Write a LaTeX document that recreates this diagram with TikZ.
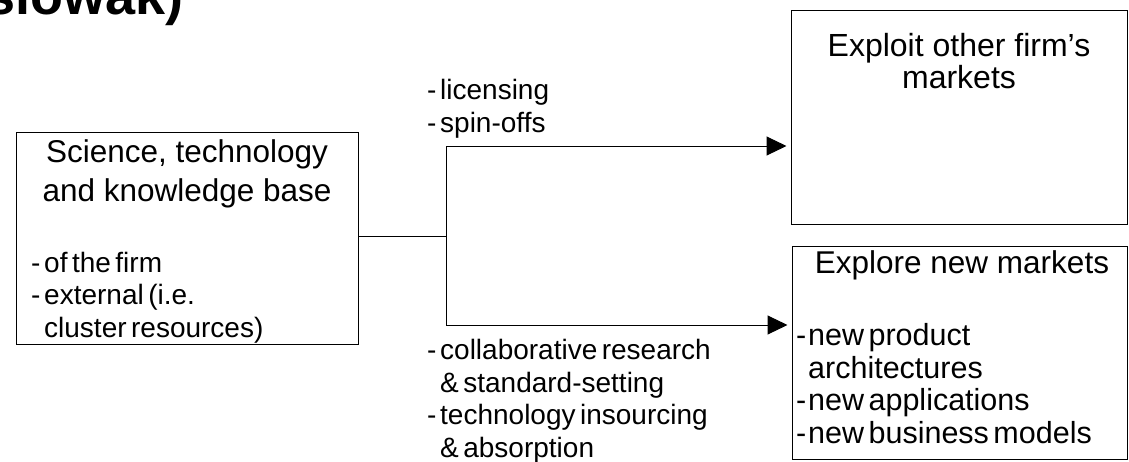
\documentclass[tikz,border=0pt]{standalone}
\usepackage{fontspec}
\setmainfont{Liberation Sans}
\usetikzlibrary{arrows.meta,positioning}
\newlength{\hangw}
\newcommand{\listfont}[2]{\fontsize{#1}{32.5}\selectfont\spaceskip=4.5pt plus 1pt minus 1pt\setlength{\hangw}{#2}}
\newcommand{\itemdash}{\makebox[\hangw][l]{-}}
\newcommand{\itemgap}{\hspace*{\hangw}}
\tikzset{
  mbox/.style={draw, line width=1pt, inner sep=0pt},
  boxtitle/.style={font=\fontsize{31.5}{39}\selectfont, align=center, inner sep=0pt, anchor=base},
  listtext/.style n args={2}{font={\listfont{#1}{#2}}, align=left, inner sep=0pt, anchor=base west},
  link/.style={line width=1pt},
  flow/.style={line width=1pt, -{Triangle[length=20pt,width=19pt]}}
}
\begin{document}
\begin{tikzpicture}[x=1pt,y=-1pt]
\useasboundingbox (0,0) rectangle (1129,461);
\node[anchor=base east, inner sep=0pt, font=\fontsize{54}{54}\selectfont\bfseries] (heading) at (184,14) {slowak)};

\node[mbox, minimum width=342pt, minimum height=212pt] (base) at (187,238) {};
\node[mbox, minimum width=336pt, minimum height=214pt] (exploit) at (959,117) {};
\node[mbox, minimum width=335pt, minimum height=213pt] (explore) at (959.5,352.5) {};

% multi-line nodes: base is the last line
\node[boxtitle] (basetitle) at (187,201) {Science, technology\\and knowledge base};
\node[listtext={28}{13pt}] (baselist) at (31,337) {\itemdash of the firm\\\itemdash external (i.e.\\\itemgap cluster resources)};
\node[boxtitle, font=\fontsize{32}{32}\selectfont] (exploittitle) at (959,88) {Exploit other firm's\\markets};
\node[boxtitle] (exploretitle) at (962,273) {Explore new markets};
\node[listtext={30.5}{12pt}] (explorelist) at (796,443) {\itemdash new product\\\itemgap architectures\\\itemdash new applications\\\itemdash new business models};
\node[listtext={28}{13pt}] (outlbl) at (427,132) {\itemdash licensing\\\itemdash spin-offs};
\node[listtext={28}{13pt}] (inlbl) at (427,457) {\itemdash collaborative research\\\itemgap\& standard-setting\\\itemdash technology insourcing\\\itemgap\& absorption};

\coordinate (split) at (446,236);
\coordinate (uptop) at (446,146);
\coordinate (downtop) at (446,325);
\draw[link] (base.east |- split) -- (split);
\draw[link] (uptop) -- (downtop);
\draw[flow] (uptop) -- ([xshift=-4pt]exploit.west |- uptop);
\draw[flow] (downtop) -- ([xshift=-4pt]explore.west |- downtop);
\end{tikzpicture}
\end{document}
